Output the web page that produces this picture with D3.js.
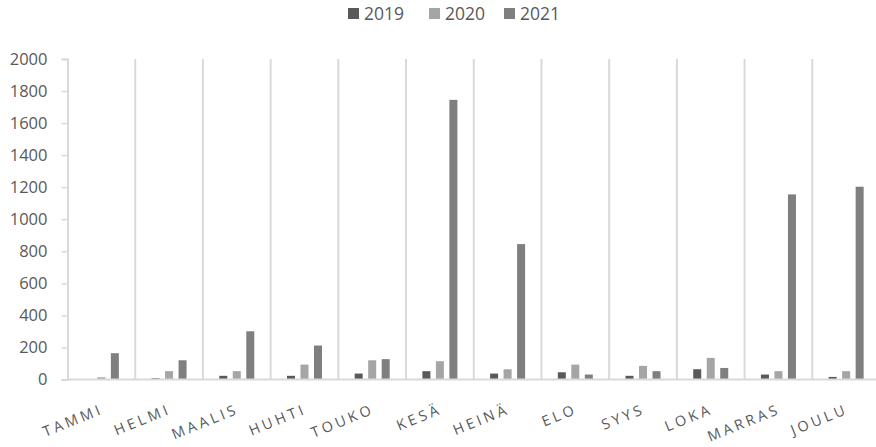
<!DOCTYPE html>
<html><head><meta charset="utf-8">
<script src="https://cdn.jsdelivr.net/npm/d3@7"></script>
<style>body{margin:0;background:#fff;} svg{display:block;}</style>
</head><body>
<svg id="c" width="876" height="447"></svg>
<script>
const months = ["TAMMI","HELMI","MAALIS","HUHTI","TOUKO","KESÄ","HEINÄ","ELO","SYYS","LOKA","MARRAS","JOULU"];
const seriesNames = ["2019","2020","2021"];
const v2019 = [0, 8, 23, 23, 37, 52, 37, 45, 23, 64, 31, 16];
const v2020 = [14, 52, 52, 93, 120, 114, 64, 93, 85, 135, 52, 52];
const v2021 = [164, 120, 301, 212, 127, 1745, 845, 31, 52, 72, 1155, 1203];
const yTicks = [0,200,400,600,800,1000,1200,1400,1600,1800,2000];
const colors = ["#595959","#a5a5a5","#7f7f7f"];

const svg = d3.select("#c");
const x = d3.scaleBand().domain(months).range([67.5, 880]).padding(0);
const y = d3.scaleLinear().domain([0,2000]).range([379.5, 59]);
const barW = 8;

// vertical category dividers
svg.append("g").selectAll("line").data(months).join("line")
  .attr("x1", d=> x(d) + x.bandwidth())
  .attr("x2", d=> x(d) + x.bandwidth())
  .attr("y1", y(2000)).attr("y2", y(0))
  .attr("stroke","#d9d9d9").attr("stroke-width",2);

// y axis
const yAxis = d3.axisLeft(y).tickValues(yTicks).tickSize(6).tickPadding(14).tickFormat(d3.format("d"));
const ga = svg.append("g").attr("transform","translate(67.5,0)").call(yAxis);
ga.select(".domain").attr("stroke","#d9d9d9").attr("stroke-width",2);
ga.selectAll(".tick line").attr("stroke","#d9d9d9").attr("stroke-width",1.5);
ga.selectAll(".tick text").attr("fill","#595959").style("font-family","'Open Sans'").style("font-size","16.5px");

// bars
const data = [v2019, v2020, v2021];
data.forEach((vals, si) => {
  svg.append("g").selectAll("rect").data(vals).join("rect")
    .attr("x", (d,i)=> x(months[i]) + x.bandwidth()/2 + (si-1)*13.5 - barW/2)
    .attr("width", barW)
    .attr("y", d=> y(d))
    .attr("height", d=> y(0)-y(d))
    .attr("fill", colors[si]);
});

// baseline
svg.append("line").attr("x1",67.5).attr("x2",880).attr("y1",y(0)).attr("y2",y(0))
  .attr("stroke","#d9d9d9").attr("stroke-width",2);

// x labels
svg.append("g").selectAll("text").data(months).join("text")
  .attr("transform", d=> `translate(${x(d)+x.bandwidth()/2+3},413) rotate(-22)`)
  .attr("text-anchor","end")
  .attr("fill","#595959")
  .style("font-family","'Open Sans'").style("font-size","14.5px").style("letter-spacing","3.3px")
  .text(d=>d);

// legend
const legX = [348, 429, 504];
const lg = svg.append("g");
seriesNames.forEach((n,i)=>{
  lg.append("rect").attr("x",legX[i]).attr("y",8).attr("width",11).attr("height",11).attr("fill",colors[i]);
  lg.append("text").attr("x",legX[i]+16).attr("y",20).attr("fill","#595959")
    .style("font-family","'Open Sans'").style("font-size","17.5px").text(n);
});
</script>
</body></html>
